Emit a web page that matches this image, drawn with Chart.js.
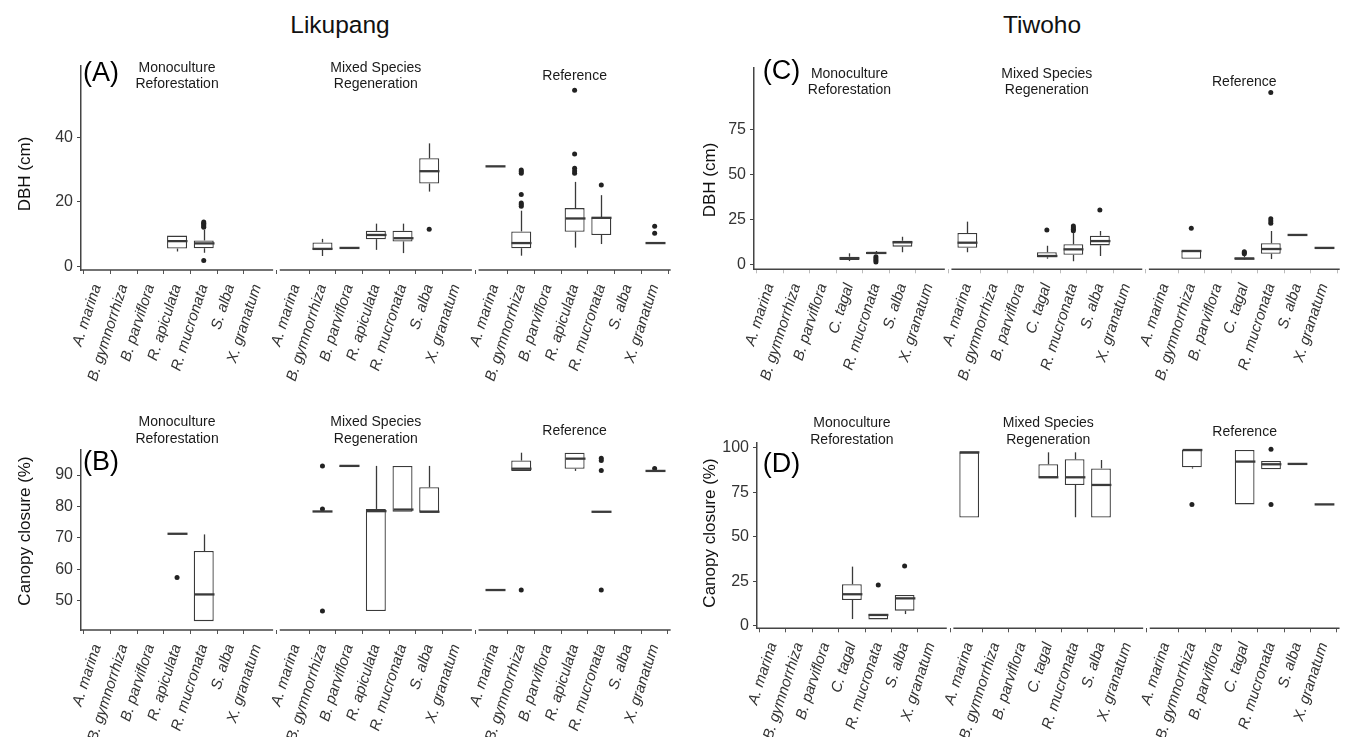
<!DOCTYPE html>
<html><head><meta charset="utf-8">
<script src="https://cdn.jsdelivr.net/npm/chart.js@4.4.1/dist/chart.umd.min.js"></script>
<style>
body{margin:0;background:#fff;width:1349px;height:737px;position:relative;overflow:hidden;font-family:"Liberation Sans",Arial,Helvetica,sans-serif}
canvas{position:absolute}
.site{position:absolute;font-size:24.5px;color:#111;transform:translate(-50%,-50%);white-space:nowrap}
</style></head><body>
<div class="site" style="left:340px;top:25px">Likupang</div>
<div class="site" style="left:1042px;top:25px">Tiwoho</div>
<canvas id="cA"></canvas><canvas id="cB"></canvas><canvas id="cC"></canvas><canvas id="cD"></canvas>
<script>
// ---------------- data ----------------
const facets = ["Monoculture\nReforestation", "Mixed Species\nRegeneration", "Reference"];
const speciesLik = ["A. marina","B. gymnorrhiza","B. parviflora","R. apiculata","R. mucronata","S. alba","X. granatum"];
const speciesTiw = ["A. marina","B. gymnorrhiza","B. parviflora","C. tagal","R. mucronata","S. alba","X. granatum"];
const n = null;
// order: 7 species x [Monoculture, Mixed, Reference]
// (A) Likupang DBH (cm)
const likDbhLow  = [n,n,n,4.7,4.3,n,n,   n,3.3,5.8,5.2,4.2,23.2,n,   31.0,3.4,n,5.9,7.0,n,7.3];
const likDbhQ1   = [n,n,n,5.6,5.7,n,n,   n,5.2,5.8,8.5,7.8,25.7,n,   31.0,5.7,n,10.8,9.8,n,7.3];
const likDbhMed  = [n,n,n,7.9,7.2,n,n,   n,5.5,5.8,9.8,8.8,29.5,n,   31.0,7.3,n,14.9,15.1,n,7.3];
const likDbhQ3   = [n,n,n,9.6,8.1,n,n,   n,7.5,5.8,11.1,11.1,33.5,n, 31.0,10.9,n,18.1,15.3,n,7.3];
const likDbhHigh = [n,n,n,9.6,11.4,n,n,  n,8.6,5.8,13.3,13.3,38.1,n, 31.0,17.3,n,26.2,22.1,n,7.3];
const likDbhOut  = [[],[],[],[],[12.2,12.6,13.0,13.4,13.8,1.9],[],[],
                    [],[],[],[],[],[11.6],[],
                    [],[18.7,19.2,19.7,22.3,28.9,29.4,29.9],[],[28.9,29.6,30.4,34.8,54.5],[25.2],[],[10.3,12.5]];
const likDbhTicks = [0,20,40];
// (B) Likupang canopy closure (%)
const likCanLow  = [n,n,n,71.3,43.5,n,n,  n,78.4,92.6,46.7,78.3,78.3,n,  53.4,91.3,n,91.3,78.3,n,91.3];
const likCanQ1   = [n,n,n,71.3,43.5,n,n,  n,78.4,92.6,46.7,78.3,78.3,n,  53.4,91.3,n,92.0,78.3,n,91.3];
const likCanMed  = [n,n,n,71.3,52.0,n,n,  n,78.4,92.9,78.5,79.0,78.3,n,  53.4,92.0,n,95.2,78.3,n,91.3];
const likCanQ3   = [n,n,n,71.3,65.8,n,n,  n,78.4,93.0,79.2,92.9,86.1,n,  53.4,94.6,n,97.1,78.3,n,91.3];
const likCanHigh = [n,n,n,71.3,71.1,n,n,  n,78.4,93.0,92.9,92.9,92.9,n,  53.4,97.1,n,97.1,78.3,n,91.3];
const likCanOut  = [[],[],[],[57.4],[],[],[],
                    [],[79.2,92.9,46.7],[],[],[],[],[],
                    [],[53.4],[],[],[95.3,94.6,91.4,53.4],[],[92.1]];
const likCanTicks = [50,60,70,80,90];
// (C) Tiwoho DBH (cm)
const tiwDbhLow  = [n,n,n,1.8,5.7,6.7,n,   6.7,n,n,3.1,1.7,4.6,n,    n,3.1,n,2.5,2.9,16.3,9.1];
const tiwDbhQ1   = [n,n,n,2.4,5.7,9.8,n,   9.2,n,n,3.9,5.3,10.5,n,   n,3.1,n,2.8,5.9,16.3,9.1];
const tiwDbhMed  = [n,n,n,3.3,6.3,12.2,n,  12.0,n,n,4.6,8.3,12.9,n,  n,7.4,n,3.1,8.5,16.3,9.1];
const tiwDbhQ3   = [n,n,n,4.2,6.8,13.1,n,  17.4,n,n,6.7,11.1,15.9,n, n,7.4,n,3.9,11.7,16.3,9.1];
const tiwDbhHigh = [n,n,n,6.1,7.4,15.3,n,  23.7,n,n,10.3,17.6,18.5,n, n,7.4,n,4.8,18.5,16.3,9.1];
const tiwDbhOut  = [[],[],[],[],[4.2,3.2,2.2,1.3],[],[],
                    [],[],[],[19.1],[18.7,19.5,20.3,21.3],[30.2],[],
                    [],[20.0],[],[5.8,6.4,7.0],[22.8,24.0,25.3,95.4],[],[]];
const tiwDbhTicks = [0,25,50,75];
// (D) Tiwoho canopy closure (%)
const tiwCanLow  = [n,n,n,3.9,3.7,6.7,n,    60.8,n,n,83.2,61.0,60.8,n,  n,88.3,n,68.2,87.9,90.9,68.2];
const tiwCanQ1   = [n,n,n,14.6,3.7,8.6,n,   60.8,n,n,83.2,79.1,60.8,n,  n,89.0,n,68.2,87.9,90.9,68.2];
const tiwCanMed  = [n,n,n,17.8,6.2,15.5,n,  97.4,n,n,83.4,83.4,79.1,n,  n,98.7,n,92.2,90.7,90.9,68.2];
const tiwCanQ3   = [n,n,n,23.4,6.7,17.4,n,  97.4,n,n,90.7,93.5,88.4,n,  n,98.7,n,98.7,92.5,90.9,68.2];
const tiwCanHigh = [n,n,n,33.3,6.7,17.4,n,  97.4,n,n,97.4,97.4,93.1,n,  n,98.7,n,98.7,92.5,90.9,68.2];
const tiwCanOut  = [[],[],[],[],[23.0],[33.6],[],
                    [],[],[],[],[],[],[],
                    [],[68.2],[],[],[99.1,68.2],[],[]];
const tiwCanTicks = [0,25,50,75,100];

// ---------------- drawing ----------------
const FONT = '"Liberation Sans", Arial, Helvetica, sans-serif';
const G = 0.25, FW = 7.2;               // facet gap and facet width, in category units
function pos(k){ return Math.floor(k/7)*(FW+G) + 0.6 + (k%7); }
const LINEC = '#3a3a3a';

function makePanel(P){
  const cv = document.getElementById(P.id);
  cv.width = P.cw; cv.height = P.ch;
  cv.style.left = P.cl+'px'; cv.style.top = P.ct+'px';
  cv.style.width = P.cw+'px'; cv.style.height = P.ch+'px';
  const S = P.stats;
  const labels = [...P.cats, ...P.cats, ...P.cats];
  const tickValues = labels.map((_,k)=>pos(k));
  const bars = [], outs = [];
  for (let k=0;k<21;k++){
    if (S.med[k]===null) continue;
    bars.push({x:pos(k), y:[S.q1[k], S.q3[k]]});
    S.out[k].forEach(v=>outs.push({x:pos(k), y:v}));
  }
  const yW = P.left - P.cl;
  const xH = P.ct + P.ch - P.bottom;
  function line(ctx,x0,y0,x1,y1){ ctx.beginPath(); ctx.moveTo(x0,y0); ctx.lineTo(x1,y1); ctx.stroke(); }
  const extras = {
    id:'extras'+P.id,
    afterDatasetsDraw(chart){
      const ctx=chart.ctx, xs=chart.scales.x, ys=chart.scales.y;
      const bw = 0.75*(xs.getPixelForValue(1)-xs.getPixelForValue(0));
      ctx.save();
      ctx.strokeStyle=LINEC;
      for (let k=0;k<21;k++){
        if (S.med[k]===null) continue;
        const px = Math.round(xs.getPixelForValue(pos(k)))+0.5;
        ctx.lineWidth=1.3;
        if (S.high[k]>S.q3[k]) line(ctx,px,ys.getPixelForValue(S.q3[k]),px,ys.getPixelForValue(S.high[k]));
        if (S.low[k]<S.q1[k]) line(ctx,px,ys.getPixelForValue(S.q1[k]),px,ys.getPixelForValue(S.low[k]));
        ctx.lineWidth=2.3;
        const ym = ys.getPixelForValue(S.med[k]);
        line(ctx,px-bw/2,ym,px+bw/2,ym);
      }
      ctx.restore();
    },
    afterDraw(chart){
      const ctx=chart.ctx, xs=chart.scales.x, ca=chart.chartArea;
      ctx.save();
      // facet x-axis lines
      ctx.strokeStyle='#444'; ctx.lineWidth=1.5;
      for (let f=0;f<3;f++){
        const x0=xs.getPixelForValue(f*(FW+G)), x1=xs.getPixelForValue(f*(FW+G)+FW);
        line(ctx,x0,ca.bottom,x1,ca.bottom);
      }
      // strip labels
      ctx.font='14px '+FONT; ctx.fillStyle='#1a1a1a'; ctx.textAlign='center'; ctx.textBaseline='middle';
      facets.forEach((f,i)=>{
        const cx=(xs.getPixelForValue(i*(FW+G))+xs.getPixelForValue(i*(FW+G)+FW))/2;
        const ls=f.split('\n');
        ls.forEach((t,j)=>ctx.fillText(t,cx,P.stripY-P.ct+(j-(ls.length-1)/2)*16.5));
      });
      // panel letter
      ctx.font='27px '+FONT; ctx.fillStyle='#000'; ctx.textAlign='left';
      ctx.fillText(P.letter, P.letterX-P.cl, P.letterY-P.ct);
      // y title
      ctx.font='17px '+FONT; ctx.fillStyle='#111'; ctx.textAlign='center';
      ctx.translate(P.yTitleX-P.cl, P.yTitleY-P.ct); ctx.rotate(-Math.PI/2);
      ctx.fillText(P.yTitle,0,0);
      ctx.restore();
    }
  };
  new Chart(cv, {
    type:'bar',
    data:{datasets:[
      {type:'scatter', data:outs, pointRadius:2.5, pointBackgroundColor:'#222', pointBorderWidth:0, pointHoverRadius:2.5},
      {type:'bar', data:bars, backgroundColor:'#fff', borderColor:LINEC, borderWidth:1.3, borderSkipped:false,
       barPercentage:0.75, categoryPercentage:1}
    ]},
    options:{
      responsive:false, animation:false, devicePixelRatio:1,
      layout:{padding:{left:0, top:P.top-P.ct, right:P.cl+P.cw-P.right, bottom:0}},
      plugins:{legend:{display:false}, tooltip:{enabled:false}},
      scales:{
        x:{type:'linear', min:0, max:3*FW+2*G, offset:false,
           afterBuildTicks:s=>{ s.ticks = tickValues.map(v=>({value:v})); },
           afterFit:s=>{ s.height = xH; },
           ticks:{autoSkip:false, maxRotation:72, minRotation:72, padding:8, color:'#333',
                  font:{family:FONT, size:15, style:'italic'}, callback:(v,i)=>labels[i]},
           grid:{display:true, drawOnChartArea:false, drawTicks:true, tickLength:4, color:P.tickColor, lineWidth:1},
           border:{display:false}},
        y:{type:'linear', min:P.yMin, max:P.yMax,
           afterBuildTicks:s=>{ s.ticks = P.yTicks.map(v=>({value:v})); },
           afterFit:s=>{ s.width = yW; },
           ticks:{padding:4, color:'#333', font:{family:FONT, size:16}},
           grid:{display:true, drawOnChartArea:false, drawTicks:true, tickLength:4, color:'#444', lineWidth:1},
           border:{display:true, color:'#444', width:1.5}}
      }
    },
    plugins:[extras]
  });
}

makePanel({id:'cA', cl:0, ct:40, cw:680, ch:360, left:81, right:672, top:66, bottom:270,
  yMin:-1.02, yMax:62, yTicks:likDbhTicks, cats:speciesLik,
  stats:{low:likDbhLow,q1:likDbhQ1,med:likDbhMed,q3:likDbhQ3,high:likDbhHigh,out:likDbhOut},
  letter:'(A)', letterX:83, letterY:74, stripY:76.3, yTitle:'DBH (cm)', yTitleX:25, yTitleY:174, tickColor:'#555'});
makePanel({id:'cB', cl:0, ct:405, cw:680, ch:332, left:81, right:671, top:450, bottom:630,
  yMin:40.68, yMax:97.96, yTicks:likCanTicks, cats:speciesLik,
  stats:{low:likCanLow,q1:likCanQ1,med:likCanMed,q3:likCanQ3,high:likCanHigh,out:likCanOut},
  letter:'(B)', letterX:83, letterY:463, stripY:430.7, yTitle:'Canopy closure (%)', yTitleX:25, yTitleY:531, tickColor:'#555'});
makePanel({id:'cC', cl:680, ct:40, cw:669, ch:360, left:754, right:1346, top:68, bottom:269.3,
  yMin:-2.78, yMax:109.06, yTicks:tiwDbhTicks, cats:speciesTiw,
  stats:{low:tiwDbhLow,q1:tiwDbhQ1,med:tiwDbhMed,q3:tiwDbhQ3,high:tiwDbhHigh,out:tiwDbhOut},
  letter:'(C)', letterX:762.7, letterY:72, stripY:82, yTitle:'DBH (cm)', yTitleX:710, yTitleY:180, tickColor:'#bbb'});
makePanel({id:'cD', cl:680, ct:405, cw:669, ch:332, left:757, right:1343, top:442.7, bottom:628.3,
  yMin:-1.29, yMax:102.8, yTicks:tiwCanTicks, cats:speciesTiw,
  stats:{low:tiwCanLow,q1:tiwCanQ1,med:tiwCanMed,q3:tiwCanQ3,high:tiwCanHigh,out:tiwCanOut},
  letter:'(D)', letterX:762.7, letterY:465, stripY:431.7, yTitle:'Canopy closure (%)', yTitleX:710, yTitleY:533, tickColor:'#555'});
</script>
</body></html>
